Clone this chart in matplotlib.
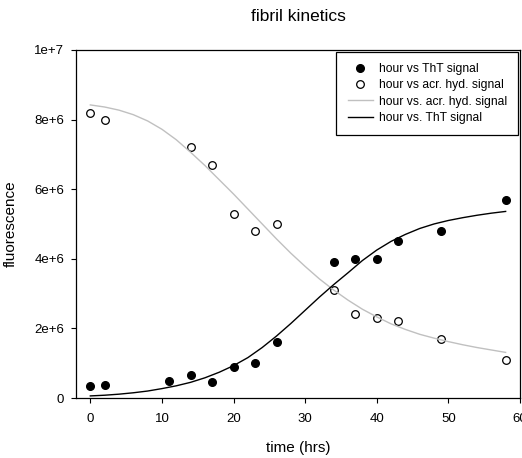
import matplotlib
matplotlib.use("Agg")
import matplotlib.pyplot as plt
from matplotlib.ticker import FixedLocator, FixedFormatter

plt.rcParams['font.family'] = ['Liberation Sans', 'DejaVu Sans']

# measured points
hours_tht = [0, 2, 11, 14, 17, 20, 23, 26, 34, 37, 40, 43, 49, 58]
tht_signal = [0.35e6, 0.38e6, 0.48e6, 0.65e6, 0.45e6, 0.9e6, 1.0e6, 1.6e6,
              3.9e6, 4.0e6, 4.0e6, 4.5e6, 4.8e6, 5.7e6]

hours_acr = [0, 2, 14, 17, 20, 23, 26, 34, 37, 40, 43, 49, 58]
acr_signal = [8.2e6, 8.0e6, 7.2e6, 6.7e6, 5.3e6, 4.8e6, 5.0e6,
              3.1e6, 2.4e6, 2.3e6, 2.2e6, 1.7e6, 1.1e6]

# fitted curves, every 2 h
fit_hours = [0, 2, 4, 6, 8, 10, 12, 14, 16, 18, 20, 22, 24, 26, 28,
             30, 32, 34, 36, 38, 40, 42, 44, 46, 48, 50, 52, 54, 56, 58]
fit_acr = [8.42, 8.36, 8.27, 8.14, 7.96, 7.72, 7.42, 7.06, 6.68, 6.27,
           5.86, 5.43, 5.00, 4.57, 4.16, 3.78, 3.42, 3.10, 2.81, 2.55,
           2.33, 2.13, 1.97, 1.83, 1.72, 1.62, 1.53, 1.45, 1.38, 1.31]
fit_tht = [0.06, 0.08, 0.11, 0.15, 0.20, 0.27, 0.35, 0.45, 0.58, 0.74,
           0.93, 1.16, 1.45, 1.78, 2.14, 2.52, 2.90, 3.26, 3.60, 3.95,
           4.25, 4.50, 4.70, 4.87, 5.00, 5.10, 5.18, 5.25, 5.31, 5.36]

y_ticks = [0, 2e6, 4e6, 6e6, 8e6, 1e7]
y_tick_labels = ['0', '2e+6', '4e+6', '6e+6', '8e+6', '1e+7']
x_ticks = [0, 10, 20, 30, 40, 50, 60]

fig = plt.figure(figsize=(5.22, 4.58), dpi=100)
ax = fig.add_axes([0.1456, 0.131, 0.8505, 0.76])

ax.plot(hours_tht, tht_signal, linestyle='', marker='o', markersize=5.5,
        color='black', label='hour vs ThT signal')
ax.plot(hours_acr, acr_signal, linestyle='', marker='o', markersize=5.5,
        markerfacecolor='white', markeredgecolor='black', markeredgewidth=0.9,
        label='hour vs acr. hyd. signal')
ax.plot(fit_hours, [v * 1e6 for v in fit_acr], color='#c0c0c0', linewidth=1.0,
        label='hour vs. acr. hyd. signal')
ax.plot(fit_hours, [v * 1e6 for v in fit_tht], color='black', linewidth=1.0,
        label='hour vs. ThT signal')

ax.set_xlim(-2, 60)
ax.set_ylim(0, 1e7)
ax.xaxis.set_major_locator(FixedLocator(x_ticks))
ax.yaxis.set_major_locator(FixedLocator(y_ticks))
ax.yaxis.set_major_formatter(FixedFormatter(y_tick_labels))
ax.tick_params(direction='out', length=3.5, width=0.8, labelsize=9.5)
ax.tick_params(axis='x', pad=7.5)
ax.tick_params(axis='y', pad=5)
for s in ax.spines.values():
    s.set_linewidth(0.9)

ax.set_title('fibril kinetics', fontsize=12.5, pad=21)
ax.set_xlabel('time (hrs)', fontsize=11, labelpad=11)
ax.set_ylabel('fluorescence', fontsize=11, labelpad=12)

leg = ax.legend(loc='upper right', fontsize=8.7, frameon=True, fancybox=False,
                edgecolor='black', framealpha=1, handlelength=2.1,
                handletextpad=0.45, borderpad=0.95, labelspacing=0.35,
                borderaxespad=0.15, bbox_to_anchor=(1.0, 1.0))
leg.get_frame().set_linewidth(0.9)

fig.savefig('out.png', dpi=100)
